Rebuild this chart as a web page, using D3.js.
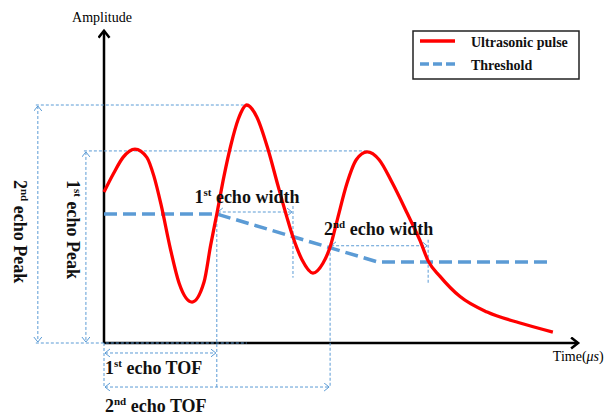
<!DOCTYPE html>
<meta charset="utf-8">
<head>
	<title>Ultrasonic pulse echo</title>
</head>

<style>

body {
	margin: 0;
	background: #fff;
}

svg {
	font-family: "Liberation Serif", "Times New Roman", serif;
}

.guide {
	fill: none;
	stroke: #5b9bd5;
	stroke-width: 1;
	stroke-dasharray: 3, 2;
}

.lbl {
	font-size: 18px;
	font-weight: bold;
	fill: #111;
}

</style>

<body>

<svg width="613" height="416"></svg>

<script src="https://cdnjs.cloudflare.com/ajax/libs/d3/7.8.5/d3.min.js"></script>
<script>

// pulse samples (time in arbitrary units, amplitude normalised to 2nd echo peak)
var pulseTime = [0, 2.0, 4.0, 6.5, 9.0, 10.5, 12.0, 13.9, 15.8, 18.5, 21.0, 22.4, 23.7, 25.2, 26.7, 28.2, 30.0,
	32.1, 34.5, 36.5, 38.4, 39.7, 41.6, 43.9, 46.0, 47.5, 49.1, 51.0, 53.0, 55.3, 57.8, 60.5, 63.7, 66.4,
	68.1, 70.6, 74.8, 80.5, 87.4, 94.3];
var pulseAmp = [0.634, 0.712, 0.780, 0.815, 0.780, 0.700, 0.580, 0.400, 0.250, 0.172, 0.255, 0.410, 0.542, 0.700, 0.835, 0.940, 1.000,
	0.950, 0.811, 0.665, 0.530, 0.445, 0.350, 0.294, 0.335, 0.403, 0.525, 0.668, 0.770, 0.803, 0.770, 0.675, 0.545, 0.430,
	0.345, 0.280, 0.195, 0.130, 0.084, 0.046];

// threshold (piecewise linear)
var thresholdTime = [0, 23.7, 57.6, 93.3];
var thresholdAmp = [0.542, 0.542, 0.340, 0.340];

// echoes: start crossing (TOF), end crossing, and peak used for the peak arrows
var echoNames = ['1st', '2nd'];
var echoStart = [23.7, 47.5];
var echoEnd = [39.7, 68.1];
var peakTime = [55.3, 30.0];
var peakAmp = [0.807, 1.0];

var legendLabels = ['Ultrasonic pulse', 'Threshold'];

var svg = d3.select('svg');

var x = d3.scaleLinear().domain([0, 100]).range([104, 580]);
var y = d3.scaleLinear().domain([0, 1]).range([343, 105]);
var thr = d3.scaleLinear().domain(thresholdTime).range(thresholdAmp);

var blue = '#5b9bd5';

// markers
var defs = svg.append('defs');
defs.append('marker')
	.attr('id', 'arr')
	.attr('markerUnits', 'userSpaceOnUse')
	.attr('markerWidth', 10).attr('markerHeight', 10)
	.attr('refX', 5).attr('refY', 4)
	.attr('orient', 'auto-start-reverse')
	.append('path')
	.attr('d', 'M0,0 L5,4 L0,8')
	.attr('fill', 'none')
	.attr('stroke', blue)
	.attr('stroke-width', 1);
defs.append('marker')
	.attr('id', 'axarr')
	.attr('markerUnits', 'userSpaceOnUse')
	.attr('markerWidth', 16).attr('markerHeight', 16)
	.attr('refX', 8).attr('refY', 6)
	.attr('orient', 'auto')
	.append('path')
	.attr('d', 'M1,0.5 L8,6 L1,11.5')
	.attr('fill', 'none')
	.attr('stroke', '#000')
	.attr('stroke-width', 2.5);

// axes
svg.append('line')
	.attr('x1', x(0)).attr('y1', y(0))
	.attr('x2', x(0)).attr('y2', y(1.312))
	.attr('stroke', '#000').attr('stroke-width', 2.5)
	.attr('marker-end', 'url(#axarr)');
svg.append('line')
	.attr('x1', x(0)).attr('y1', y(0))
	.attr('x2', x(99.6)).attr('y2', y(0))
	.attr('stroke', '#000').attr('stroke-width', 2.5)
	.attr('marker-end', 'url(#axarr)');

svg.append('text')
	.attr('x', x(0) - 2).attr('y', 22)
	.attr('text-anchor', 'middle')
	.style('font-size', '14px')
	.text('Amplitude');

var tl = svg.append('text')
	.attr('x', x(94.3)).attr('y', y(0) + 18)
	.style('font-size', '14px');
tl.append('tspan').text('Time(');
tl.append('tspan').style('font-style', 'italic').text('μs');
tl.append('tspan').text(')');

// guide lines
var g = svg.append('g').attr('class', 'guide');
var peakX = [x(-3.8), x(-13.9)];

// horizontal lines from peaks and baseline
peakAmp.forEach(function(a, i) {
	g.append('line')
		.attr('x1', peakX[i] - 2).attr('y1', y(a))
		.attr('x2', x(peakTime[i])).attr('y2', y(a));
	g.append('line')
		.attr('x1', peakX[i]).attr('y1', y(a) + 1)
		.attr('x2', peakX[i]).attr('y2', y(0) - 1)
		.attr('marker-start', 'url(#arr)')
		.attr('marker-end', 'url(#arr)');
});
g.append('line')
	.attr('x1', x(-13.9) - 2).attr('y1', y(0))
	.attr('x2', x(30)).attr('y2', y(0));

// TOF lines
var tofY = [y(-0.042), y(-0.185)];
g.append('line')
	.attr('x1', x(0)).attr('y1', y(0))
	.attr('x2', x(0)).attr('y2', tofY[1]);
echoStart.forEach(function(t, i) {
	g.append('line')
		.attr('x1', x(t)).attr('y1', y(thr(t)))
		.attr('x2', x(t)).attr('y2', tofY[1]);
	g.append('line')
		.attr('x1', x(0) + 1).attr('y1', tofY[i])
		.attr('x2', x(t) - 1).attr('y2', tofY[i])
		.attr('marker-start', 'url(#arr)')
		.attr('marker-end', 'url(#arr)');
});

// echo width lines
var widthDrop = [41, 22];
echoStart.forEach(function(t, i) {
	var wy = y(thr(t)) - 2;
	g.append('line')
		.attr('x1', x(t) + 1).attr('y1', wy)
		.attr('x2', x(echoEnd[i]) - 1).attr('y2', wy)
		.attr('marker-start', 'url(#arr)')
		.attr('marker-end', 'url(#arr)');
	g.append('line')
		.attr('x1', x(echoEnd[i])).attr('y1', wy - 6)
		.attr('x2', x(echoEnd[i])).attr('y2', y(thr(echoEnd[i])) + widthDrop[i]);
});

// threshold
var thrData = d3.zip(thresholdTime, thresholdAmp);
svg.append('path')
	.datum(thrData)
	.attr('d', d3.line()
		.x(function(d) { return x(d[0]); })
		.y(function(d) { return y(d[1]); }))
	.attr('fill', 'none')
	.attr('stroke', blue)
	.attr('stroke-width', 3.5)
	.attr('stroke-dasharray', '13,6');

// pulse
var pulseData = d3.zip(pulseTime, pulseAmp);
svg.append('path')
	.datum(pulseData)
	.attr('d', d3.line()
		.curve(d3.curveMonotoneX)
		.x(function(d) { return x(d[0]); })
		.y(function(d) { return y(d[1]); }))
	.attr('fill', 'none')
	.attr('stroke', '#ff0000')
	.attr('stroke-width', 3.3);

// labels
function supLabel(sel, num, sup, rest) {
	sel.append('tspan').text(num);
	sel.append('tspan').style('font-size', '11px').attr('dy', -7).text(sup);
	sel.append('tspan').attr('dy', 7).text(rest);
}

supLabel(svg.append('text').attr('class', 'lbl').attr('x', x(19)).attr('y', 203), '1', 'st', ' echo width');
supLabel(svg.append('text').attr('class', 'lbl').attr('x', x(46.2)).attr('y', 235), '2', 'nd', ' echo width');
supLabel(svg.append('text').attr('class', 'lbl').attr('x', x(0) + 1).attr('y', 374), '1', 'st', ' echo TOF');
supLabel(svg.append('text').attr('class', 'lbl').attr('x', x(0) + 1).attr('y', 412), '2', 'nd', ' echo TOF');
supLabel(svg.append('text').attr('class', 'lbl').attr('transform', 'translate(67,180) rotate(90)'), '1', 'st', ' echo Peak');
supLabel(svg.append('text').attr('class', 'lbl').attr('transform', 'translate(14,180) rotate(90)'), '2', 'nd', ' echo Peak');

// legend
var lg = svg.append('g').attr('transform', 'translate(413, 31)');
lg.append('rect')
	.attr('width', 166).attr('height', 48)
	.attr('fill', '#fff')
	.attr('stroke', '#222')
	.attr('stroke-width', 1.5);
lg.selectAll('line.key')
	.data(legendLabels)
	.enter()
	.append('line')
	.attr('class', 'key')
	.attr('x1', 7).attr('x2', 42)
	.attr('y1', function(d, i) { return 10 + i * 23; })
	.attr('y2', function(d, i) { return 10 + i * 23; })
	.attr('stroke', function(d, i) { return i ? blue : '#ff0000'; })
	.attr('stroke-width', 3.5)
	.attr('stroke-dasharray', function(d, i) { return i ? '9,4' : null; });
lg.selectAll('text')
	.data(legendLabels)
	.enter()
	.append('text')
	.attr('x', 58)
	.attr('y', function(d, i) { return 16 + i * 23; })
	.style('font-size', '14px')
	.style('font-weight', 'bold')
	.style('fill', '#111')
	.text(function(d) { return d; });

</script>

</body>
</html>
